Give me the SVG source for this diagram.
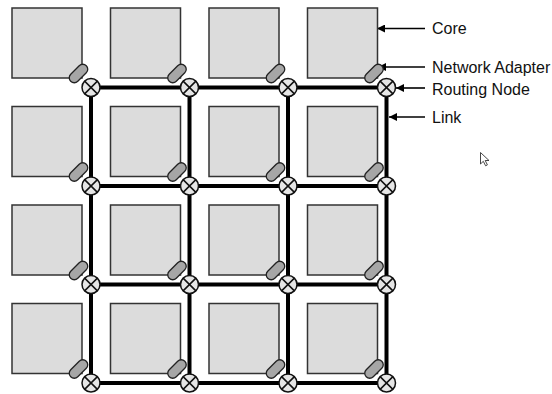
<svg xmlns="http://www.w3.org/2000/svg" width="552" height="394" viewBox="0 0 552 394">
<defs>
<style>
.core{fill:#dcdcdc;stroke:#333;stroke-width:1.5}
.na{fill:#a6a6a6;stroke:#222;stroke-width:1.3}
.rn circle{fill:#e6e6e6;stroke:#111;stroke-width:1.5}
.rn path{stroke:#111;stroke-width:1.5;fill:none}
.link{stroke:#000;stroke-width:4;fill:none}
.lbl{font-family:"Liberation Sans",Arial,sans-serif;font-size:16px;fill:#111}
.ann{stroke:#000;stroke-width:1.6;fill:none}
</style>
<marker id="ah" viewBox="0 0 10 10" refX="10" refY="5" markerWidth="11" markerHeight="8" markerUnits="userSpaceOnUse" orient="auto">
<path d="M0,0 L10,5 L0,10 z" fill="#000"/>
</marker>
<g id="tile">
<rect class="core" x="-79" y="-79.5" width="70" height="70"/>
<rect class="na" x="-11" y="-5" width="22" height="10" rx="5" transform="translate(-12.5 -14) rotate(-45)"/>
</g>
<g id="node" class="rn">
<circle r="9"/>
<path d="M-6.4,-6.4 L6.4,6.4 M6.4,-6.4 L-6.4,6.4"/>
</g>
</defs>
<g id="connectors">
<path class="link" d="M91,87.5H386.5M91,186H386.5M91,284.5H386.5M91,383H386.5"/>
<path class="link" d="M91,87.5V383M189.5,87.5V383M288,87.5V383M386.5,87.5V383"/>
<path class="ann" marker-end="url(#ah)" d="M425,28.5H377"/>
<path class="ann" marker-end="url(#ah)" d="M425,67H378"/>
<path class="ann" marker-end="url(#ah)" d="M425,88H396"/>
<path class="ann" marker-end="url(#ah)" d="M425,117H389"/>
</g>
<g id="tiles">
<use href="#tile" x="91" y="87.5"/><use href="#tile" x="189.5" y="87.5"/><use href="#tile" x="288" y="87.5"/><use href="#tile" x="386.5" y="87.5"/>
<use href="#tile" x="91" y="186"/><use href="#tile" x="189.5" y="186"/><use href="#tile" x="288" y="186"/><use href="#tile" x="386.5" y="186"/>
<use href="#tile" x="91" y="284.5"/><use href="#tile" x="189.5" y="284.5"/><use href="#tile" x="288" y="284.5"/><use href="#tile" x="386.5" y="284.5"/>
<use href="#tile" x="91" y="383"/><use href="#tile" x="189.5" y="383"/><use href="#tile" x="288" y="383"/><use href="#tile" x="386.5" y="383"/>
</g>
<g id="routing-nodes">
<use href="#node" x="91" y="87.5"/><use href="#node" x="189.5" y="87.5"/><use href="#node" x="288" y="87.5"/><use href="#node" x="386.5" y="87.5"/>
<use href="#node" x="91" y="186"/><use href="#node" x="189.5" y="186"/><use href="#node" x="288" y="186"/><use href="#node" x="386.5" y="186"/>
<use href="#node" x="91" y="284.5"/><use href="#node" x="189.5" y="284.5"/><use href="#node" x="288" y="284.5"/><use href="#node" x="386.5" y="284.5"/>
<use href="#node" x="91" y="383"/><use href="#node" x="189.5" y="383"/><use href="#node" x="288" y="383"/><use href="#node" x="386.5" y="383"/>
</g>
<g id="labels">
<text class="lbl" x="432" y="34">Core</text>
<text class="lbl" x="432" y="73">Network Adapter</text>
<text class="lbl" x="432" y="95">Routing Node</text>
<text class="lbl" x="432" y="123">Link</text>
</g>
<path id="cursor" d="M480.5,152.5V164L483.3,161.3L485.6,165.8L487.4,164.9L485.2,160.5H489Z" fill="#fff" stroke="#333" stroke-width="0.9"/>
</svg>
